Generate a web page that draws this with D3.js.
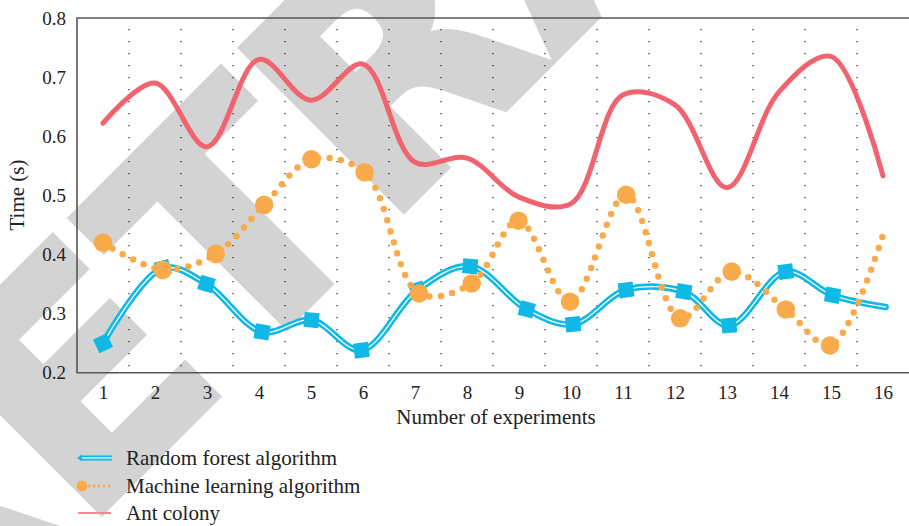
<!DOCTYPE html>
<html>
<head>
<meta charset="utf-8">
<script src="https://cdn.jsdelivr.net/npm/d3@7"></script>
<style>
  html, body { margin: 0; padding: 0; background: #fff; }
  svg { display: block; }
  text { font-family: "Liberation Serif", "DejaVu Serif", serif; fill: #222; }
</style>
</head>
<body>
<svg id="chart" width="909" height="526"></svg>
<script>
// Data
const experiments = [1, 2, 3, 4, 5, 6, 7, 8, 9, 10, 11, 12, 13, 14, 15, 16];
const yTicks = [0.2, 0.3, 0.4, 0.5, 0.6, 0.7, 0.8];

const forestX = [1, 2.15, 2.99, 4.06, 5.01, 5.97, 7.05, 8.06, 9.15, 10.04, 11.06, 12.17, 13.04, 14.13, 15.03, 16.05];
const forestY = [0.25, 0.377, 0.35, 0.269, 0.289, 0.238, 0.34, 0.38, 0.307, 0.282, 0.34, 0.337, 0.28, 0.371, 0.331, 0.311];

const mlX = [1, 2.15, 3.17, 4.1, 5.01, 6.03, 7.08, 8.09, 8.99, 9.98, 11.06, 12.1, 13.09, 14.13, 14.98, 16.0];
const mlY = [0.42, 0.374, 0.401, 0.484, 0.561, 0.539, 0.334, 0.351, 0.457, 0.32, 0.501, 0.292, 0.371, 0.307, 0.246, 0.433];

const antX = experiments;
const antY = [0.622, 0.69, 0.582, 0.73, 0.661, 0.722, 0.556, 0.563, 0.497, 0.486, 0.67, 0.653, 0.513, 0.675, 0.735, 0.533];

const legendLabels = ["Random forest algorithm", "Machine learning algorithm", "Ant colony"];

// colours
const blue = "#10b9e5";
const orange = "#f9ab4b";
const red = "#f0636f";

const svg = d3.select("#chart");

// watermark behind everything
svg.append("text")
  .attr("transform", "translate(-89,702) rotate(-45)")
  .style("font-family", "'DejaVu Sans', sans-serif")
  .style("font-weight", "bold")
  .style("font-size", "313px")
  .style("fill", "#d3d3d3")
  .style("stroke", "#d3d3d3")
  .style("stroke-width", 8)
  .style("stroke-linejoin", "miter")
  .text("RETRACTED");

const x = d3.scaleLinear().domain([0.5, 16.5]).range([77, 909]);
const y = d3.scaleLinear().domain([0.2, 0.8]).range([372.7, 18]);

// dotted vertical grid between experiments
const gridPos = experiments.slice(0, -1).map(d => d + 0.5);
svg.append("g")
  .selectAll("line")
  .data(gridPos)
  .enter().append("line")
  .attr("x1", d => x(d)).attr("x2", d => x(d))
  .attr("y1", y(0.8) + 11).attr("y2", y(0.2))
  .attr("stroke", "#333")
  .attr("stroke-width", 1.3)
  .attr("stroke-dasharray", "1.3 10.7");

// axes frame
const frame = svg.append("g").attr("stroke", "#555").attr("stroke-width", 1.6).attr("fill", "none");
frame.append("path").attr("d", `M${x(16.5) + 2},${y(0.8)}H${x(0.5)}V${y(0.2)}H${x(16.5) + 2}`);

// tick labels
const xAxis = d3.axisBottom(x).tickValues(experiments).tickSize(0).tickPadding(13).tickFormat(d3.format("d"));
const gx = svg.append("g").attr("transform", `translate(0,${y(0.2)})`).call(xAxis)
  .attr("font-family", "Liberation Serif").attr("font-size", 19);
gx.select(".domain").remove();
gx.selectAll("text").attr("fill", "#222");

const yAxis = d3.axisLeft(y).tickValues(yTicks).tickSize(0).tickPadding(11).tickFormat(d3.format(".1f"));
const gy = svg.append("g").attr("transform", `translate(${x(0.5)},0)`).call(yAxis)
  .attr("font-family", "Liberation Serif").attr("font-size", 19);
gy.select(".domain").remove();
gy.selectAll("text").attr("fill", "#222");

// axis titles
svg.append("text")
  .attr("x", 496).attr("y", 424)
  .attr("text-anchor", "middle")
  .style("font-size", "21px")
  .text("Number of experiments");

svg.append("text")
  .attr("transform", "translate(24,195) rotate(-90)")
  .attr("text-anchor", "middle")
  .style("font-size", "21px")
  .text("Time (s)");

const line = d3.line()
  .x(d => x(d[0]))
  .y(d => y(d[1]))
  .curve(d3.curveCatmullRom.alpha(0.5));

const forest = forestX.map((d, i) => [d, forestY[i]]);
const ml = mlX.map((d, i) => [d, mlY[i]]);
const ant = antX.map((d, i) => [d, antY[i]]);

// ant colony
svg.append("path")
  .attr("d", line(ant))
  .attr("fill", "none")
  .attr("stroke", red)
  .attr("stroke-width", 5)
  .attr("stroke-linecap", "round")
  .attr("stroke-linejoin", "round");

// random forest: double line
svg.append("path")
  .attr("d", line(forest))
  .attr("fill", "none")
  .attr("stroke", blue)
  .attr("stroke-width", 6.5)
  .attr("stroke-linecap", "round");
svg.append("path")
  .attr("d", line(forest))
  .attr("fill", "none")
  .attr("stroke", "#fff")
  .attr("stroke-width", 1.3)
  .attr("stroke-linecap", "round");

// squares tilted along the line
svg.append("g")
  .selectAll("rect")
  .data(forest.slice(0, -1))
  .enter().append("rect")
  .attr("x", -7.5).attr("y", -7.5)
  .attr("width", 15).attr("height", 15)
  .attr("fill", blue)
  .attr("transform", (d, i) => {
    const a = forest[Math.max(0, i - 1)], b = forest[i + 1];
    const ang = Math.atan2(y(b[1]) - y(a[1]), x(b[0]) - x(a[0])) * 180 / Math.PI * 0.5;
    return `translate(${x(d[0])},${y(d[1])}) rotate(${ang})`;
  });

// machine learning: dotted line + big dots
svg.append("path")
  .attr("d", line(ml))
  .attr("fill", "none")
  .attr("stroke", orange)
  .attr("stroke-width", 6.5)
  .attr("stroke-linecap", "round")
  .attr("stroke-dasharray", "0 11.5");

svg.append("g")
  .selectAll("circle")
  .data(ml.slice(0, -1))
  .enter().append("circle")
  .attr("cx", d => x(d[0]))
  .attr("cy", d => y(d[1]))
  .attr("r", 9.3)
  .attr("fill", orange);

// legend
const legend = svg.append("g");
const rows = [458, 486, 513];
legendLabels.forEach((label, i) => {
  const g = legend.append("g").attr("transform", `translate(0,${rows[i]})`);
  if (i === 0) {
    g.append("line").attr("x1", 80).attr("x2", 112).attr("stroke", blue).attr("stroke-width", 5);
    g.append("line").attr("x1", 80).attr("x2", 112).attr("stroke", "#fff").attr("stroke-width", 1.2);
    g.append("path").attr("d", "M77,0L82,-3.5L82,3.5Z").attr("fill", blue);
  } else if (i === 1) {
    g.append("line").attr("x1", 89).attr("x2", 112).attr("stroke", orange).attr("stroke-width", 3)
      .attr("stroke-linecap", "round").attr("stroke-dasharray", "0 5");
    g.append("circle").attr("cx", 82).attr("cy", 0).attr("r", 5.5).attr("fill", orange);
  } else {
    g.append("line").attr("x1", 78).attr("x2", 111).attr("stroke", "#f08a93").attr("stroke-width", 2);
  }
  g.append("text")
    .attr("x", 126).attr("y", 7)
    .style("font-size", "21px")
    .text(label);
});
</script>
</body>
</html>
